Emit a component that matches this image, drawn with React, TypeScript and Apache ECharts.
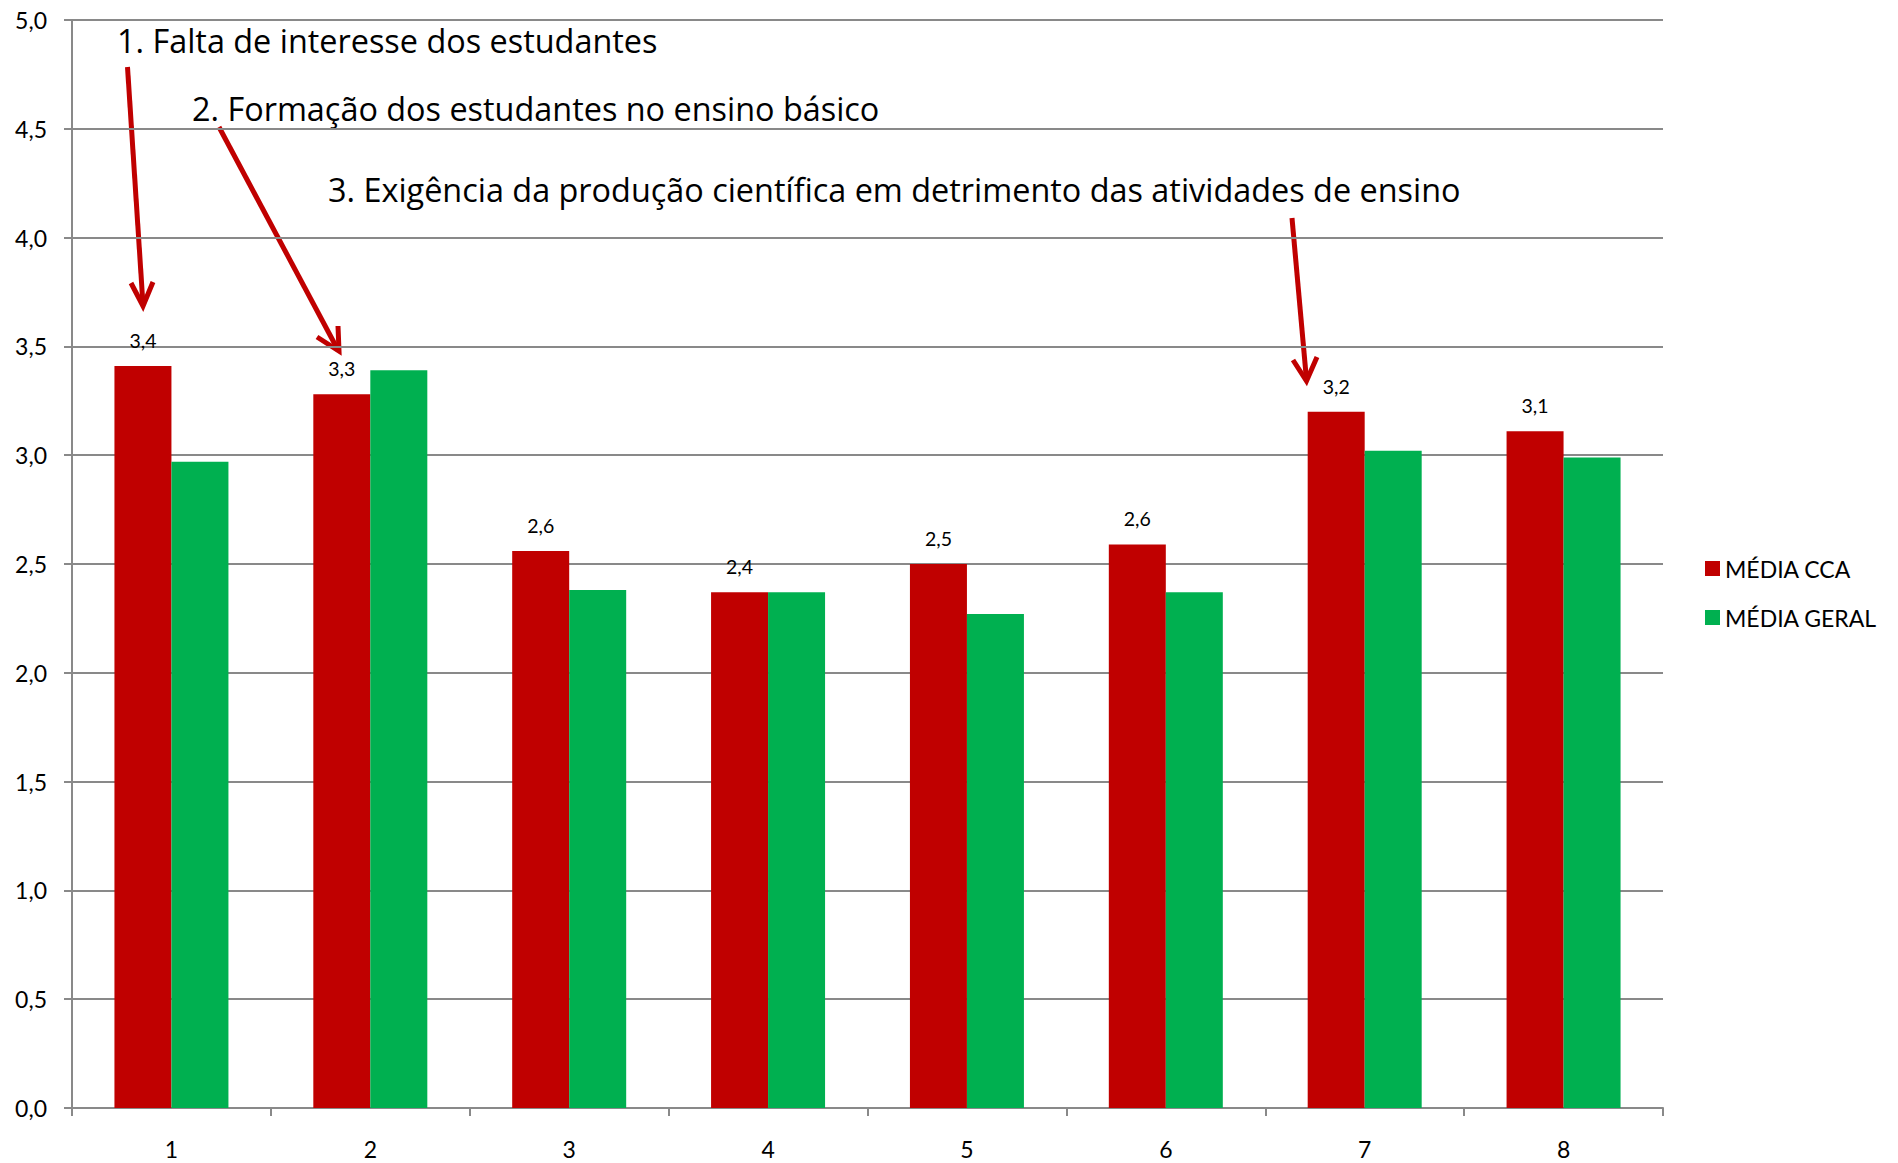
import React, { useEffect, useRef } from "react";
import * as echarts from "echarts";

const categories = ["1", "2", "3", "4", "5", "6", "7", "8"];
const mediaCCA = [3.41, 3.28, 2.56, 2.37, 2.5, 2.59, 3.2, 3.11];
const mediaGeral = [2.97, 3.39, 2.38, 2.37, 2.27, 2.37, 3.02, 2.99];
const yTicks = { min: 0, max: 5, interval: 0.5 };
const annotations = [
  "1. Falta de interesse dos estudantes",
  "2. Formação dos estudantes no ensino básico",
  "3. Exigência da produção científica em detrimento das atividades de ensino",
];

const RED = "#C00000";
const GREEN = "#00B050";
const GRAY = "#898989";
const FONT = "Lato";
const ANN_FONT = "Open Sans";

const fmt = (v: number) => v.toFixed(1).replace(".", ",");

export default function App() {
  const ref = useRef<HTMLDivElement>(null);
  useEffect(() => {
    if (!ref.current) return;
    const chart = echarts.init(ref.current, undefined, { renderer: "svg" });
    const annFont = 32.4;
    const arrowStyle = { stroke: RED, lineWidth: 5, fill: "none" };
    const annText = (i: number, x: number, yMid: number) => ({
      type: "text",
      x,
      y: yMid,
      style: {
        text: annotations[i],
        fontSize: annFont,
        fontFamily: ANN_FONT,
        fill: "#000",
        verticalAlign: "middle",
        align: "left",
      },
    });
    chart.setOption({
      animation: false,
      backgroundColor: "#fff",
      textStyle: { fontFamily: FONT },
      grid: { left: 72, right: 235, top: 20, bottom: 55, containLabel: false },
      legend: {
        orient: "vertical",
        left: 1700,
        top: 552,
        itemWidth: 15,
        itemHeight: 15,
        itemGap: 26,
        icon: "rect",
        textStyle: { fontSize: 23, color: "#000", fontFamily: FONT },
        data: ["MÉDIA CCA", "MÉDIA GERAL"],
      },
      xAxis: {
        type: "category",
        data: categories,
        axisLine: { lineStyle: { color: GRAY, width: 2 } },
        axisTick: { show: true, length: 8, lineStyle: { color: GRAY, width: 2 } },
        axisLabel: { fontSize: 23, color: "#000", margin: 29, fontFamily: FONT },
      },
      yAxis: {
        type: "value",
        min: yTicks.min,
        max: yTicks.max,
        interval: yTicks.interval,
        axisLine: { show: true, lineStyle: { color: GRAY, width: 2 } },
        axisTick: { show: true, length: 8, lineStyle: { color: GRAY, width: 2 } },
        splitLine: { lineStyle: { color: GRAY, width: 2 } },
        axisLabel: {
          fontSize: 23,
          color: "#000",
          margin: 25,
          fontFamily: FONT,
          formatter: (v: number) => fmt(v),
        },
      },
      series: [
        {
          name: "MÉDIA CCA",
          type: "bar",
          data: mediaCCA,
          barWidth: 57,
          barGap: "0%",
          itemStyle: { color: RED },
          label: {
            show: true,
            position: "top",
            distance: 15.5,
            fontSize: 19.5,
            color: "#000",
            fontFamily: FONT,
            formatter: (p: any) => fmt(p.value),
          },
        },
        {
          name: "MÉDIA GERAL",
          type: "bar",
          data: mediaGeral,
          barWidth: 57,
          barGap: "0%",
          itemStyle: { color: GREEN },
        },
      ],
      graphic: [
        annText(0, 117, 40),
        annText(1, 192, 108),
        annText(2, 328, 189),
        { type: "line", shape: { x1: 127.5, y1: 67, x2: 143, y2: 305 }, style: arrowStyle },
        {
          type: "polyline",
          shape: { points: [[131, 283], [143, 306], [153, 282]] },
          style: arrowStyle,
        },
        { type: "line", shape: { x1: 219, y1: 127, x2: 338, y2: 350 }, style: arrowStyle },
        {
          type: "polyline",
          shape: { points: [[317, 337], [339, 351], [338, 326]] },
          style: arrowStyle,
        },
        { type: "line", shape: { x1: 1292, y1: 218, x2: 1306.5, y2: 380 }, style: arrowStyle },
        {
          type: "polyline",
          shape: { points: [[1293, 360], [1306.5, 381], [1317, 357]] },
          style: arrowStyle,
        },
      ],
    });
    return () => chart.dispose();
  }, []);
  return <div ref={ref} style={{ width: 1898, height: 1163, position: "absolute", left: 0, top: 0 }} />;
}
